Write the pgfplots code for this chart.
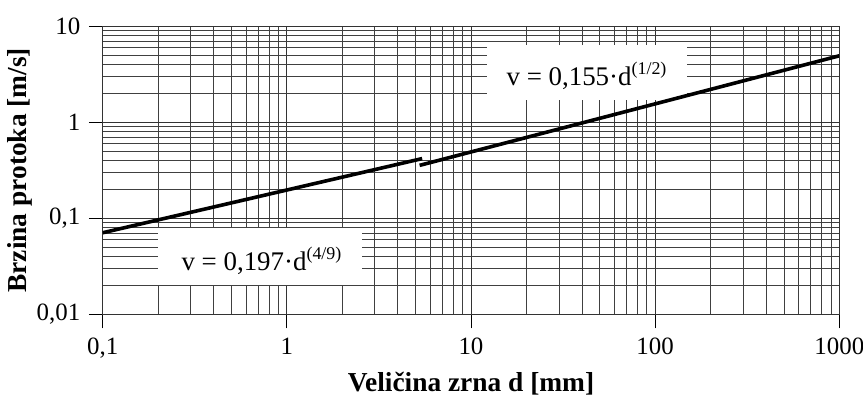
\documentclass[border=0pt]{standalone}
\usepackage{pgfplots}
\pgfplotsset{compat=1.18}
\usepackage{fontspec}
\setmainfont{Liberation Serif}
\usetikzlibrary{calc}

% formula text with a raised exponent
\newcommand{\formula}[2]{%
  {\fontsize{27}{29}\selectfont
    v = #1·d\raisebox{11bp}{\fontsize{18}{19}\selectfont (#2)}}}

\begin{document}
\begin{tikzpicture}
\begin{loglogaxis}[
  name=ax,
  scale only axis,
  width=736.6bp, height=288.5bp,
  xmin=0.1, xmax=1000, ymin=0.01, ymax=10,
  xtick={0.1,1,10,100,1000},
  xticklabels={{0,1},1,10,100,1000},
  ytick={0.01,0.1,1,10},
  yticklabels={{0,01},{0,1},1,10},
  tick align=outside,
  xtick pos=bottom, ytick pos=left,
  major tick length=14bp,
  minor tick length=0pt,
  grid=both,
  major grid style={black!80, line width=0.75bp},
  minor grid style={black!75, line width=0.7bp},
  axis line style={black!80, line width=0.75bp},
  tick style={black, line width=0.8bp},
  ticklabel style={font=\fontsize{25}{27}\selectfont},
  xticklabel style={yshift=-6bp},
  yticklabel style={xshift=-5bp},
  xlabel={Veličina zrna d [mm]},
  ylabel={Brzina protoka [m/s]},
  label style={font=\bfseries\fontsize{27.5}{29}\selectfont},
  xlabel style={at={(axis description cs:0.5,-0.2652)}, anchor=base},
  ylabel style={at={(axis description cs:-0.112,0.5)}, anchor=center},
]
% white boxes behind the two formulas
\node[fill=white, minimum width=200bp, minimum height=55bp, inner sep=0pt]
      at (axis cs:42.7,3.29) {};
\node[fill=white, minimum width=204bp, minimum height=57bp, inner sep=0pt]
      at (axis cs:0.7148,0.0401) {};
\node[anchor=base, inner sep=0pt] at (axis cs:42.4,2.40) {\formula{0,155}{1/2}};
\node[anchor=base, inner sep=0pt] at (axis cs:0.7283,0.0287) {\formula{0,197}{4/9}};

% v = 0.197 d^(4/9)
\addplot[black, line width=3.6bp] coordinates {(0.1,0.0708) (5.43,0.418)};
% v = 0.155 d^(1/2)
\addplot[black, line width=3.6bp] coordinates {(5.26,0.3555) (1000,4.90)};
\end{loglogaxis}
\pgfresetboundingbox
\path ($(ax.south west)+(-102.7bp,-81.5bp)$) rectangle ($(ax.north east)+(23.7bp,26bp)$);
\end{tikzpicture}
\end{document}
